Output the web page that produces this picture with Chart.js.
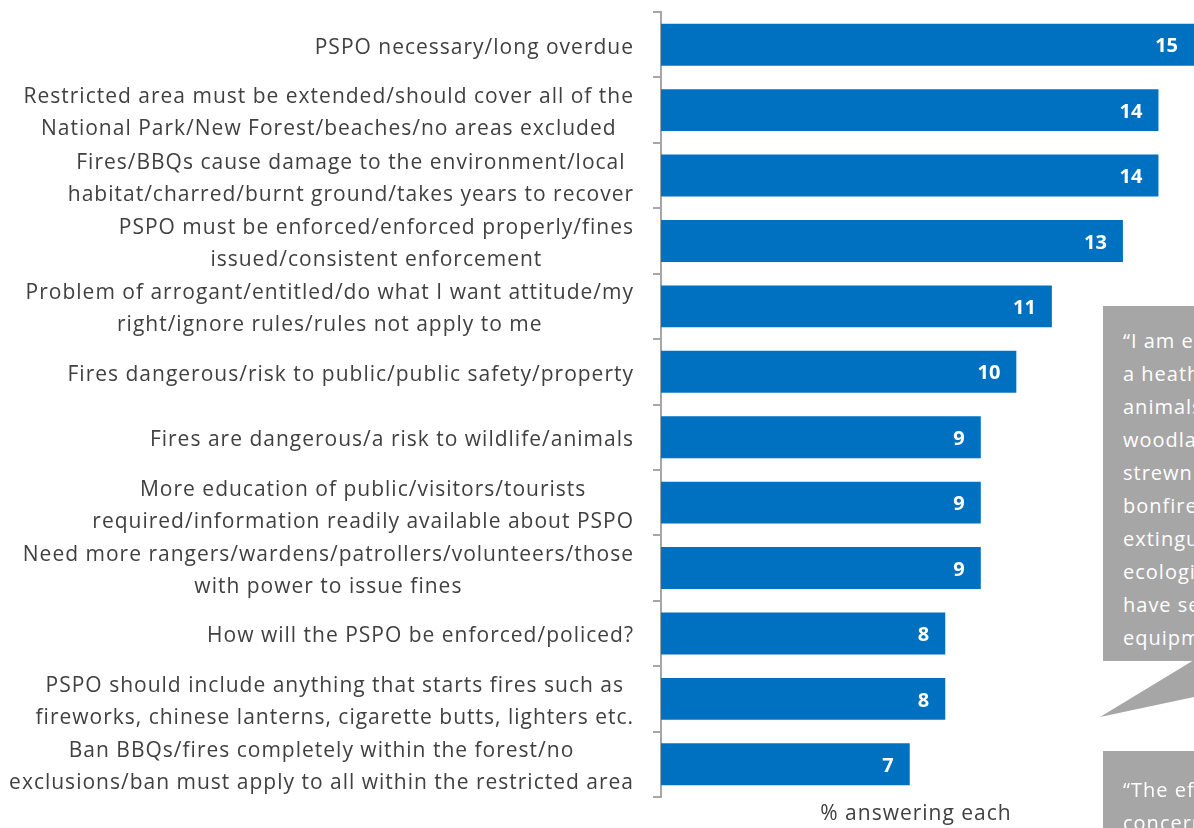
<!DOCTYPE html>
<html>
<head>
<meta charset="utf-8">
<script src="https://cdn.jsdelivr.net/npm/chart.js@4"></script>
<style>
  html, body { margin: 0; padding: 0; background: #fff; overflow: hidden; }
  #wrap { position: relative; width: 1194px; height: 828px; overflow: hidden; }
  #chartBox { position: absolute; left: 0; top: 0; width: 1194px; height: 828px; }
  .quote { position: absolute; left: 1103px; background: #a6a6a6; color: #fff;
           font-family: "Open Sans", sans-serif; font-size: 20px; line-height: 33px; letter-spacing: 1px;
           padding: 18px 0 0 20px; white-space: nowrap; overflow: hidden; box-sizing: border-box; }
  #tail { position: absolute; left: 0; top: 0; }
</style>
</head>
<body>
<div id="wrap">
  <div id="chartBox"><canvas id="answerChart"></canvas></div>
  <div class="quote" style="top:306px; width:200px; height:355px;">
    “I am extremely<br>a heathland<br>animals<br>woodland<br>strewn<br>bonfires<br>extinguished<br>ecological<br>have seen<br>equipment
  </div>
  <svg id="tail" width="1194" height="828"><polygon points="1194,660 1100,717 1194,697" fill="#a6a6a6"/></svg>
  <div class="quote" style="top:751px; width:200px; height:120px; padding-top:22px;">
    “The effect<br>concern
  </div>
</div>

<script>
const categories = [
    'PSPO necessary/long overdue',
    ['Restricted area must be extended/should cover all of the', 'National Park/New Forest/beaches/no areas excluded'],
    ['Fires/BBQs cause damage to the environment/local', 'habitat/charred/burnt ground/takes years to recover'],
    ['PSPO must be enforced/enforced properly/fines', 'issued/consistent enforcement'],
    ['Problem of arrogant/entitled/do what I want attitude/my', 'right/ignore rules/rules not apply to me'],
    'Fires dangerous/risk to public/public safety/property',
    'Fires are dangerous/a risk to wildlife/animals',
    ['More education of public/visitors/tourists', 'required/information readily available about PSPO'],
    ['Need more rangers/wardens/patrollers/volunteers/those', 'with power to issue fines'],
    'How will the PSPO be enforced/policed?',
    ['PSPO should include anything that starts fires such as', 'fireworks, chinese lanterns, cigarette butts, lighters etc.'],
    ['Ban BBQs/fires completely within the forest/no', 'exclusions/ban must apply to all within the restricted area']
];
const percentages = [15, 14, 14, 13, 11, 10, 9, 9, 9, 8, 8, 7];
const axisTitle = '% answering each';

// category labels (block right aligned, lines centred), value labels, axis title
const drawText = {
    id: 'drawText',
    afterDraw(chart) {
        const ctx = chart.ctx;
        const yScale = chart.scales.y;
        ctx.save();
        ctx.textBaseline = 'middle';
        ctx.textAlign = 'center';
        ctx.font = '21px "Open Sans"';
        ctx.letterSpacing = '1px';
        ctx.fillStyle = '#404040';
        categories.forEach((lab, i) => {
            const lines = Array.isArray(lab) ? lab : [lab];
            const w = Math.max(...lines.map(l => ctx.measureText(l).width));
            const cx = 634 - w / 2;
            const cy = yScale.getPixelForValue(i) + 3;
            lines.forEach((l, j) => {
                ctx.fillText(l, cx, cy + (j - (lines.length - 1) / 2) * 32);
            });
        });

        ctx.textAlign = 'center';
        ctx.fillText(axisTitle, 916, 814);

        const meta = chart.getDatasetMeta(0);
        ctx.letterSpacing = '0px';
        ctx.font = 'bold 20px "Open Sans"';
        ctx.fillStyle = '#ffffff';
        ctx.textAlign = 'right';
        meta.data.forEach((bar, i) => {
            ctx.fillText(percentages[i], bar.x - 16, bar.y + 2);
        });
        ctx.restore();
    }
};

const ctx = document.getElementById('answerChart').getContext('2d');
const chart = new Chart(ctx, {
    type: 'bar',
    data: {
        labels: categories,
        datasets: [{
            data: percentages,
            backgroundColor: '#0070c0',
            categoryPercentage: 1,
            barPercentage: 0.64
        }]
    },
    options: {
        indexAxis: 'y',
        responsive: true,
        maintainAspectRatio: false,
        animation: false,
        layout: { padding: { top: 12, bottom: 31, left: 0, right: 0 } },
        plugins: {
            legend: { display: false },
            tooltip: { enabled: false }
        },
        scales: {
            x: { display: false, min: 0, max: 15 },
            y: {
                ticks: { display: false },
                grid: {
                    offset: true,
                    drawOnChartArea: false,
                    tickLength: 8,
                    color: '#a6a6a6',
                    lineWidth: 2
                },
                border: { color: '#a6a6a6', width: 2 },
                afterFit(scale) { scale.width = 661; }
            }
        }
    },
    plugins: [drawText]
});
</script>
</body>
</html>
